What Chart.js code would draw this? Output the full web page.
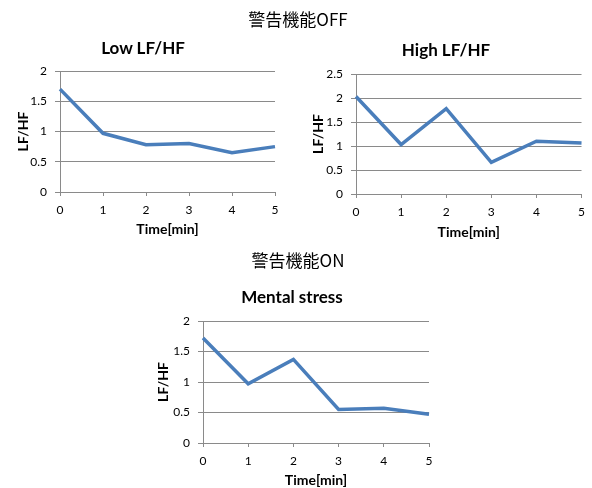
<!DOCTYPE html>
<html><head><meta charset="utf-8">
<script src="https://cdn.jsdelivr.net/npm/chart.js@4"></script>
<style>
html,body{margin:0;padding:0;background:#fff;}
#wrap{position:relative;width:592px;height:488px;overflow:hidden;}
canvas{position:absolute;left:0;top:0;}
.t{position:absolute;transform:translate(-50%,-50%);white-space:nowrap;color:#000;}
.jp{font-family:"Noto Sans CJK JP","Noto Sans",sans-serif;font-size:17px;}
.st{font-family:Lato,"Open Sans",sans-serif;font-weight:bold;font-size:17px;}
</style></head>
<body><div id="wrap">
<canvas id="c1" width="592" height="488"></canvas>
<canvas id="c2" width="592" height="488"></canvas>
<canvas id="c3" width="592" height="488"></canvas>
<div class="t jp" style="left:298px;top:18px;">警告機能OFF</div>
<div class="t st" style="left:143px;top:47px;">Low LF/HF</div>
<div class="t st" style="left:446px;top:49px;">High LF/HF</div>
<div class="t jp" style="left:298px;top:259px;">警告機能ON</div>
<div class="t st" style="left:292px;top:296px;">Mental stress</div>
</div>
<script>
const timeLabels = ['0','1','2','3','4','5'];
const lowLFHF = [1.70, 0.97, 0.78, 0.80, 0.65, 0.75];
const highLFHF = [2.03, 1.03, 1.78, 0.66, 1.10, 1.06];
const mentalStress = [1.72, 0.97, 1.37, 0.55, 0.57, 0.47];
const yMaxLow = 2, yMaxHigh = 2.5, yMaxMental = 2;
const xTitle = 'Time[min]', yTitle = 'LF/HF';

const FONT = 'Lato, "Open Sans", sans-serif';
const GRAY = '#8a8a8a';
const LINE = '#4a7ebb';
const TITLE_SIZE = 14;
const TITLE_LH = TITLE_SIZE * 1.2;

function makeChart(id, data, yMax, area) {
  const padLeft = area.yt - TITLE_LH / 2;
  const yW = area.L - padLeft;
  const xH = area.xt + TITLE_LH / 2 - area.B;
  new Chart(document.getElementById(id), {
    type: 'line',
    data: { labels: timeLabels, datasets: [{ data: data, borderColor: LINE, borderWidth: 3.5,
      pointRadius: 0, fill: false, tension: 0, borderJoinStyle: 'miter' }] },
    options: {
      responsive: false, animation: false, devicePixelRatio: 1,
      layout: { padding: { left: padLeft, top: area.T, right: 592 - area.R, bottom: 488 - area.B - xH } },
      plugins: { legend: { display: false }, title: { display: false }, tooltip: { enabled: false } },
      scales: {
        x: {
          type: 'category', offset: false,
          afterFit: s => { s.height = xH; },
          grid: { display: true, drawOnChartArea: false, drawTicks: true, tickLength: 4, color: GRAY, offset: false },
          border: { display: true, color: GRAY, width: 1 },
          ticks: { color: '#000', font: { family: FONT, size: 12 }, padding: 7, maxRotation: 0 },
          title: { display: true, text: xTitle, color: '#000', font: { family: FONT, size: TITLE_SIZE, weight: 'bold' }, padding: 0 }
        },
        y: {
          min: 0, max: yMax,
          afterFit: s => { s.width = yW; },
          grid: { color: GRAY, tickLength: 5, drawTicks: true },
          border: { display: true, color: GRAY, width: 1 },
          ticks: { stepSize: 0.5, color: '#000', font: { family: FONT, size: 12 }, padding: 8,
                   callback: v => String(Number(v)) },
          title: { display: true, text: yTitle, color: '#000', font: { family: FONT, size: TITLE_SIZE, weight: 'bold' }, padding: 0 }
        }
      }
    }
  });
}

makeChart('c1', lowLFHF, yMaxLow, { L: 60, T: 71, R: 275, B: 192, yt: 23, xt: 229 });
makeChart('c2', highLFHF, yMaxHigh, { L: 356, T: 74, R: 583, B: 194, yt: 318, xt: 232 });
makeChart('c3', mentalStress, yMaxMental, { L: 203, T: 321, R: 429, B: 443, yt: 163, xt: 480 });
</script>
</body></html>
